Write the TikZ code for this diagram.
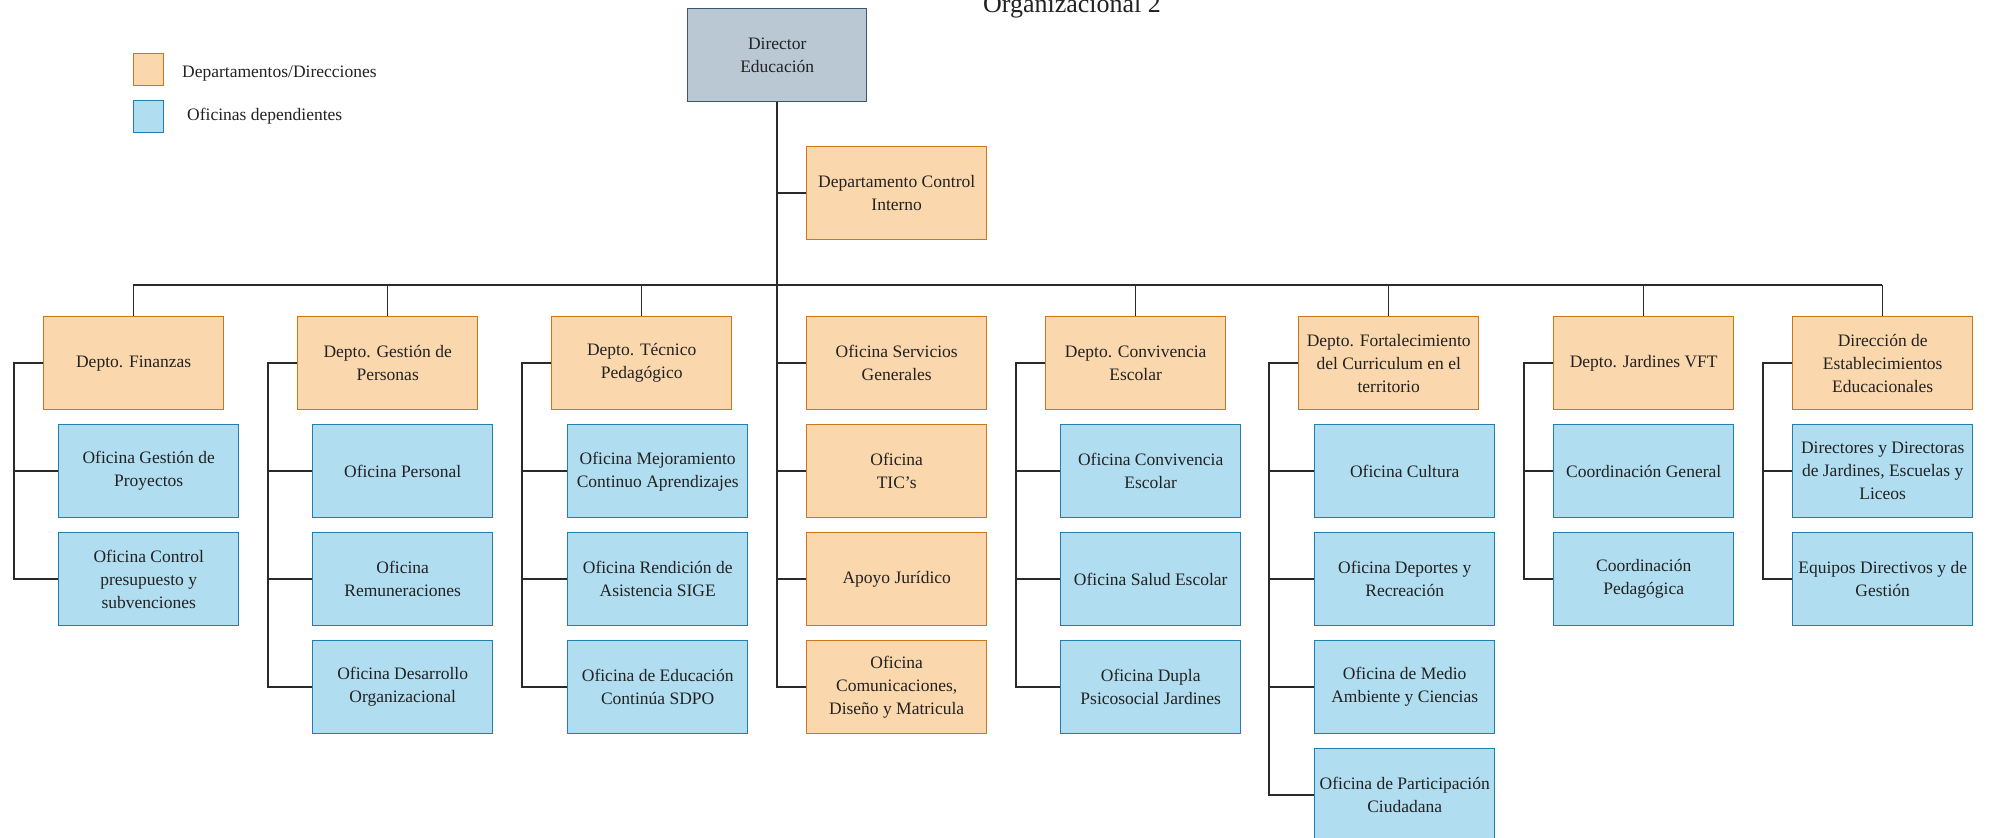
\documentclass[tikz,border=0pt]{standalone}
\usepackage{fontspec}
\setmainfont{Liberation Serif}
\definecolor{orfill}{HTML}{FAD7AC}
\definecolor{orline}{HTML}{C97718}
\definecolor{blfill}{HTML}{B1DDF0}
\definecolor{blline}{HTML}{1E7FB0}
\definecolor{grfill}{HTML}{BAC8D3}
\definecolor{grline}{HTML}{3A5670}
\definecolor{lncol}{HTML}{2A2A2A}
\definecolor{txt}{HTML}{222222}
\begin{document}
\begin{tikzpicture}[x=1pt,y=-1pt,
  box/.style={rectangle, draw, line width=1.4pt, minimum width=180pt, minimum height=93pt,
    inner sep=1pt, align=center, font=\fontsize{17.5}{23}\selectfont, text=txt, anchor=north west},
  dept/.style={box, fill=orfill, draw=orline},
  ofi/.style={box, fill=blfill, draw=blline},
  dirbox/.style={box, fill=grfill, draw=grline, minimum width=179pt},
  conn/.style={draw=lncol, line width=1.5pt},
  legsq/.style={rectangle, line width=1.2pt, minimum width=30pt, minimum height=32pt, inner sep=0pt, anchor=north west},
  legtx/.style={anchor=west, inner sep=0pt, font=\fontsize{17.5}{23}\selectfont, text=txt}
]
\useasboundingbox (0,0) rectangle (1990,838);

% title (cut off at the top, as in the reference)
\node[anchor=base, inner sep=0pt, font=\fontsize{26}{30}\selectfont, text=txt] (title) at (1072,12) {Organizacional 2};

% legend
\node[legsq, fill=orfill, draw=orline] (lg1) at (133,53) {};
\node[legtx] (lg1t) at (182,74) {Departamentos/Direcciones};
\node[legsq, fill=blfill, draw=blline] (lg2) at (133,100) {};
\node[legtx] (lg2t) at (187,116) {Oficinas dependientes};

% top
\node[dirbox] (dir) at (687,8) {Director\\Educación};
\node[dept] (ctrl) at (806,146) {Departamento Control\\Interno};

% departments
\node[dept] (d1) at (43,316) {Depto. Finanzas};
\node[dept] (d2) at (297,316) {Depto. Gestión de\\Personas};
\node[dept] (d3) at (551,316) {Depto. Técnico\\Pedagógico};
\node[dept] (d4) at (806,316) {Oficina Servicios\\Generales};
\node[dept] (d5) at (1045,316) {Depto. Convivencia\\Escolar};
\node[dept] (d6) at (1298,316) {Depto. Fortalecimiento\\del Curriculum en el\\territorio};
\node[dept] (d7) at (1553,316) {Depto. Jardines VFT};
\node[dept] (d8) at (1792,316) {Dirección de\\Establecimientos\\Educacionales};

% column 1
\node[ofi] (s1a) at (58,424) {Oficina Gestión de\\Proyectos};
\node[ofi] (s1b) at (58,532) {Oficina Control\\presupuesto y\\subvenciones};
% column 2
\node[ofi] (s2a) at (312,424) {Oficina Personal};
\node[ofi] (s2b) at (312,532) {Oficina\\Remuneraciones};
\node[ofi] (s2c) at (312,640) {Oficina Desarrollo\\Organizacional};
% column 3
\node[ofi] (s3a) at (567,424) {Oficina Mejoramiento\\Continuo Aprendizajes};
\node[ofi] (s3b) at (567,532) {Oficina Rendición de\\Asistencia SIGE};
\node[ofi] (s3c) at (567,640) {Oficina de Educación\\Continúa SDPO};
% column 4 (centre)
\node[dept] (s4a) at (806,424) {Oficina\\TIC's};
\node[dept] (s4b) at (806,532) {Apoyo Jurídico};
\node[dept] (s4c) at (806,640) {Oficina\\Comunicaciones,\\Diseño y Matricula};
% column 5
\node[ofi] (s5a) at (1060,424) {Oficina Convivencia\\Escolar};
\node[ofi] (s5b) at (1060,532) {Oficina Salud Escolar};
\node[ofi] (s5c) at (1060,640) {Oficina Dupla\\Psicosocial Jardines};
% column 6
\node[ofi] (s6a) at (1314,424) {Oficina Cultura};
\node[ofi] (s6b) at (1314,532) {Oficina Deportes y\\Recreación};
\node[ofi] (s6c) at (1314,640) {Oficina de Medio\\Ambiente y Ciencias};
\node[ofi] (s6d) at (1314,748) {Oficina de Participación\\Ciudadana};
% column 7
\node[ofi] (s7a) at (1553,424) {Coordinación General};
\node[ofi] (s7b) at (1553,532) {Coordinación\\Pedagógica};
% column 8
\node[ofi] (s8a) at (1792,424) {Directores y Directoras\\de Jardines, Escuelas y\\Liceos};
\node[ofi] (s8b) at (1792,532) {Equipos Directivos y de\\Gestión};

% main trunk and centre branches
\foreach \t in {ctrl,d4,s4a,s4b,s4c}
  \draw[conn] (dir.south) |- (\t.west);

% top bus
\coordinate (busL) at (133,285);
\coordinate (busR) at (1882,285);
\draw[conn] (busL) -- (busR);
\foreach \d in {d1,d2,d3,d5,d6,d7,d8}
  \draw[conn] (\d.north) -- (\d.north |- busL);

% sub branches
\foreach \d/\s in {d1/s1a,d1/s1b,d2/s2a,d2/s2b,d2/s2c,d3/s3a,d3/s3b,d3/s3c,
                   d5/s5a,d5/s5b,d5/s5c,d6/s6a,d6/s6b,d6/s6c,d6/s6d,
                   d7/s7a,d7/s7b,d8/s8a,d8/s8b}
  \draw[conn] (\d.west) -- ++(-29,0) |- (\s.west);
\end{tikzpicture}
\end{document}
